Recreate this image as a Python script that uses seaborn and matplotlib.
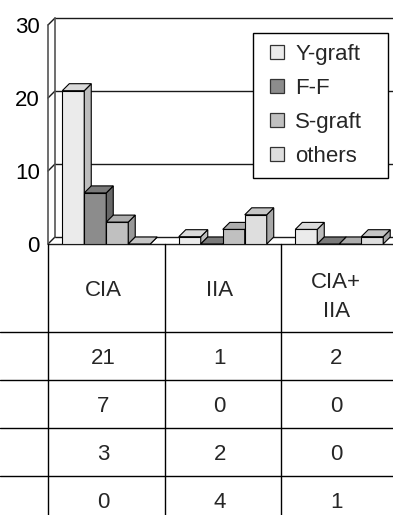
import matplotlib
matplotlib.use("Agg")
import numpy as np
import pandas as pd
import matplotlib.pyplot as plt
import seaborn as sns
from matplotlib.patches import Polygon
from matplotlib.lines import Line2D
from matplotlib.transforms import IdentityTransform

# ---- data -------------------------------------------------------------
categories = ["CIA", "IIA", "CIA+\nIIA"]
series = ["Y-graft", "F-F", "S-graft", "others"]
y_graft = [21, 1, 2]
f_f = [7, 0, 0]
s_graft = [3, 2, 0]
others = [0, 4, 1]
y_ticks = [0, 10, 20, 30]

# ---- style ------------------------------------------------------------
front_colors = ["#ebebeb", "#8c8c8c", "#c0c0c0", "#dedede"]
top_colors = ["#dadada", "#7a7a7a", "#adadad", "#c6c6c6"]
side_colors = ["#bcbcbc", "#686868", "#989898", "#a8a8a8"]
FS = 16
DEPTH = 7  # px of the 3-D extrusion

sns.set_theme(style="white")
plt.rcParams["font.family"] = ["Liberation Sans", "DejaVu Sans"]

W, H, DPI = 393, 515, 100
fig = plt.figure(figsize=(W / DPI, H / DPI), dpi=DPI)
fig.patch.set_facecolor("white")


def px_rect(x0, y_top, w, h):
    return [x0 / W, 1 - (y_top + h) / H, w / W, h / H]


ax = fig.add_axes(px_rect(48, 25, 349.5, 219))
ax.patch.set_alpha(0)

values = {"Y-graft": y_graft, "F-F": f_f, "S-graft": s_graft, "others": others}
df = pd.DataFrame(
    [(cat, s, values[s][i]) for s in series for i, cat in enumerate(categories)],
    columns=["group", "series", "count"],
)

sns.barplot(
    data=df, x="group", y="count", hue="series",
    order=categories, hue_order=series, palette=front_colors,
    width=0.755, saturation=1, errorbar=None, legend=False,
    edgecolor="black", linewidth=0.8, ax=ax,
)

ax.set_xlim(-0.5, 2.5)
ax.set_ylim(0, 30)
for sp in ax.spines.values():
    sp.set_visible(False)
ax.set_xticks([])
ax.set_yticks(y_ticks)
ax.set_yticklabels([str(t) for t in y_ticks], fontsize=FS)
ax.tick_params(axis="y", length=0, pad=5.8, colors="black")
ax.set_xlabel("")
ax.set_ylabel("")
ax.grid(False)

ident = IdentityTransform()


def to_disp(x, y):
    return ax.transData.transform((x, y))


def seg(p, q, **kw):
    ax.add_line(Line2D([p[0], q[0]], [p[1], q[1]], transform=ident,
                       clip_on=False, **kw))


line_kw = dict(color="#1a1a1a", lw=1.0, zorder=1)
wall_kw = dict(color="#555555", lw=1.2, zorder=1)
x_left, x_right = ax.get_xlim()
for t in y_ticks:
    f = to_disp(x_left, t)
    b = f + DEPTH
    r = to_disp(x_right, t) + DEPTH
    seg(b, (r[0] + 20, r[1]), **line_kw)      # back-wall gridline
    seg(f, b, **line_kw)                       # side-wall diagonal
bot, top = to_disp(x_left, 0), to_disp(x_left, 30)
seg(bot, top, **wall_kw)                       # front edge of side wall
seg(bot + DEPTH, top + DEPTH, **wall_kw)       # back edge of side wall
seg(bot, (to_disp(x_right, 0)[0] + 20, bot[1]), **line_kw)  # floor front edge

# ---- 3-D faces on every bar ------------------------------------------
bars = []
for hi, cont in enumerate(ax.containers):
    for bar in cont:
        bars.append((bar.get_x(), hi, bar))
bars.sort(key=lambda b: b[0])
for rank, (_, hi, bar) in enumerate(bars):
    z = 3 + rank * 0.1
    bar.set_zorder(z)
    x0, y0 = to_disp(bar.get_x(), 0)
    x1, y1 = to_disp(bar.get_x() + bar.get_width(), bar.get_height())
    d = DEPTH
    top_face = [(x0, y1), (x1, y1), (x1 + d, y1 + d), (x0 + d, y1 + d)]
    side_face = [(x1, y0), (x1 + d, y0 + d), (x1 + d, y1 + d), (x1, y1)]
    for pts, col in ((side_face, side_colors[hi]), (top_face, top_colors[hi])):
        ax.add_patch(Polygon(pts, closed=True, transform=ident, clip_on=False,
                             facecolor=col, edgecolor="black", lw=0.8,
                             zorder=z + 0.05))

# ---- legend -----------------------------------------------------------
handles = [Line2D([], [], ls="none", marker="s", markersize=10.5,
                  markerfacecolor=c, markeredgecolor="#333333",
                  markeredgewidth=0.9) for c in front_colors]
leg = fig.legend(
    handles, series, loc="upper left", mode="expand",
    bbox_to_anchor=(253 / W, 1 - 175 / H, 135 / W, 142 / H), borderaxespad=0,
    frameon=True, fancybox=False, framealpha=1, edgecolor="black",
    fontsize=FS, handlelength=1.2, handletextpad=0.2,
    labelspacing=0.58, borderpad=0.5,
)
leg.get_frame().set_linewidth(1.0)

# ---- data table below the chart ---------------------------------------
tax = fig.add_axes([0, 0, 1, 1])
tax.set_xlim(0, W)
tax.set_ylim(H, 0)
tax.axis("off")

col_edges = [to_disp(x, 0)[0] for x in np.arange(x_left, x_right + 0.01, 1.0)]
col_centers = [to_disp(i, 0)[0] - 3 for i in range(len(categories))]
table_top = H - to_disp(x_left, 0)[1]
row_lines = [332, 380, 428, 476]
row_centers = [358, 406, 454, 502]
header_center = 290

tk = dict(color="black", lw=1.0)
for xe in col_edges:
    tax.plot([xe, xe], [table_top, H + 5], **tk)
for yl in row_lines:
    tax.plot([0, W], [yl, yl], **tk)

for cx, cat in zip(col_centers, categories):
    nlines = cat.count("\n") + 1
    tax.text(cx, header_center + 7 * (nlines - 1), cat, ha="center",
             va="center", fontsize=FS, linespacing=1.5)
for yc, s in zip(row_centers, series):
    for cx, v in zip(col_centers, values[s]):
        tax.text(cx, yc, str(v), ha="center", va="center", fontsize=FS)

fig.savefig("out.png", dpi=DPI)
